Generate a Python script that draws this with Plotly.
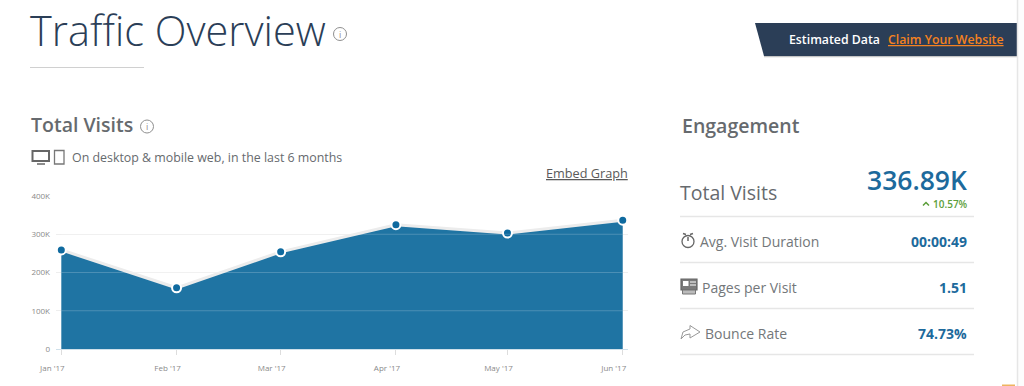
import plotly.graph_objects as go

months = ["2017-01-01", "2017-02-01", "2017-03-01", "2017-04-01", "2017-05-01", "2017-06-01"]
month_labels = ["Jan '17", "Feb '17", "Mar '17", "Apr '17", "May '17", "Jun '17"]
visits = [259000, 160000, 254000, 325000, 303000, 336890]
y_ticks = [0, 100000, 200000, 300000, 400000]
y_labels = ["0", "100K", "200K", "300K", "400K"]

metric_names = ["Avg. Visit Duration", "Pages per Visit", "Bounce Rate"]
metric_values = ["00:00:49", "1.51", "74.73%"]

FONT = "Open Sans"
BLUE = "#1f74a3"
DARK = "#2b3e57"
GREY = "#666a6e"
VAL = "#1d6a9c"

L, R, T, B = 56, 628, 196, 349
def px(x): return (x - L) / (R - L)
def py(y): return (B - y) / (B - T)

fig = go.Figure()
fig.add_trace(go.Scatter(x=months, y=visits, mode="lines", fill="tozeroy",
                         fillcolor=BLUE, line=dict(color="#ececec", width=3),
                         hoverinfo="skip", showlegend=False))
fig.add_trace(go.Scatter(x=months, y=visits, mode="markers", cliponaxis=False,
                         marker=dict(color="#0f6a9f", size=9, line=dict(color="white", width=2)),
                         showlegend=False))

ann = []
def text(x, y, s, size, color, weight=400, anchor="left"):
    ann.append(dict(x=px(x), y=py(y), xref="paper", yref="paper", text=s, showarrow=False,
                    xanchor=anchor, yanchor="middle", align=anchor, borderpad=0, borderwidth=0,
                    font=dict(family=FONT, size=size, color=color, weight=weight)))

shapes = []
def line(x0, y0, x1, y1, color, w=1, layer="above"):
    shapes.append(dict(type="line", xref="paper", yref="paper", x0=px(x0), y0=py(y0), x1=px(x1), y1=py(y1),
                       line=dict(color=color, width=w), layer=layer))
def rect(x0, y0, x1, y1, color=None, fill=None, w=1):
    shapes.append(dict(type="rect", xref="paper", yref="paper", x0=px(x0), y0=py(y0), x1=px(x1), y1=py(y1),
                       line=dict(color=color or "rgba(0,0,0,0)", width=w), fillcolor=fill or "rgba(0,0,0,0)"))
def circle(cx, cy, r, color, w=1, fill=None):
    shapes.append(dict(type="circle", xref="paper", yref="paper", x0=px(cx - r), y0=py(cy - r), x1=px(cx + r), y1=py(cy + r),
                       line=dict(color=color, width=w), fillcolor=fill or "rgba(0,0,0,0)"))
def path(points, color=None, fill=None, w=1):
    d = "M " + " L ".join(f"{px(a):.5f},{py(b):.5f}" for a, b in points)
    if fill:
        d += " Z"
    shapes.append(dict(type="path", xref="paper", yref="paper", path=d,
                       line=dict(color=color or "rgba(0,0,0,0)", width=w), fillcolor=fill or "rgba(0,0,0,0)"))

# grid lines seen through the area
for v in y_ticks[1:4]:
    shapes.append(dict(type="line", xref="x", yref="y", x0=months[0], x1=months[-1], y0=v, y1=v,
                       line=dict(color="rgba(255,255,255,0.2)", width=1), layer="above"))

# page furniture
text(30, 30, "Traffic Overview", 41.5, DARK, 300)
circle(340, 34, 6.5, "#8f8f8f", 1)
text(340, 34, "i", 9, "#8f8f8f", 400, "center")
line(30, 67.5, 144, 67.5, "#d0d0d0", 1)

text(31, 124.5, "Total Visits", 19.5, GREY, 600)
circle(147, 126.5, 6.5, "#8f8f8f", 1)
text(147, 126.5, "i", 9, "#8f8f8f", 400, "center")

# desktop / phone icons
rect(32.5, 151, 49, 161, "#666", None, 2)
line(37, 164, 45, 164, "#666", 1.5)
rect(54.5, 150.5, 64, 164, "#777", None, 1.3)
text(72, 157, "On desktop &amp; mobile web, in the last 6 months", 12.4, GREY)
text(628, 173, "<u>Embed Graph</u>", 12.7, "#5a5a5a", 400, "right")

# banner
line(764, 56.5, 1017, 56.5, "#c4c4c4", 1.5)
path([(755, 23), (1017, 23), (1017, 56), (764, 56)], None, "#2b3e57")
text(789, 39.5, "Estimated Data", 12.3, "#ffffff", 600)
text(888, 39.5, "<u>Claim Your Website</u>", 12.3, "#f58220", 600)
rect(1018, 0, 1024, 386, None, "#fdfdfd")
line(1017.5, 0, 1017.5, 386, "#e6e6e6", 1.5)
rect(1002, 384.5, 1015, 386, None, "#eeb45f")

# engagement panel
text(682, 125, "Engagement", 19.5, GREY, 600)
text(680, 192, "Total Visits", 19.5, GREY)
text(967, 180, "336.89K", 26.5, VAL, 600, "right")
text(968, 204, "10.57%", 10, "#5b9e3a", 600, "right")
path([(923, 205.5), (926, 202.5), (929, 205.5)], "#5b9e3a", None, 1.5)

for y in (216.5, 262.5, 308.5, 354.5):
    line(680, y, 974, y, "#e6e6e6", 1.5)

label_x = [700, 702, 705]
label_y = [241, 287, 333]
for n, v, x, y in zip(metric_names, metric_values, label_x, label_y):
    text(x, y, n, 14, "#73777a")
    text(967, y, v, 14, VAL, 700, "right")

# clock icon
circle(688, 241.5, 6, "#666", 1.3)
line(688, 241, 688, 237, "#666", 1.5)
line(683, 233.5, 686, 234.5, "#666", 1.5)
line(693, 233.5, 690, 234.5, "#666", 1.5)
# newspaper icon
rect(681, 279, 697, 290, "#666", "#7a7a7a", 1.2)
rect(683, 281, 688.5, 286, None, "#ffffff")
line(690, 282, 696, 282, "#fff", 1)
line(690, 285, 696, 285, "#fff", 1)
rect(682.5, 290, 695.5, 294, "#777", "#bbbbbb", 1)
# share arrow icon
path([(681, 339), (683, 332), (690, 329), (690, 325.5), (700, 332), (690, 338), (690, 334), (685, 335), (681, 339)],
     "#999", None, 1)

fig.update_layout(
    width=1024, height=386, autosize=False,
    margin=dict(l=L, r=1024 - R, t=T, b=386 - B, pad=0),
    paper_bgcolor="white", plot_bgcolor="white",
    font=dict(family=FONT, color="#8a8a8a", size=8),
    showlegend=False, annotations=ann, shapes=shapes,
    xaxis=dict(type="date", range=["2016-12-30 13:45", "2017-06-02 10:00"],
               tickvals=months, ticktext=month_labels, ticks="outside", ticklen=5, tickwidth=1,
               tickcolor="#ddd", showgrid=False, zeroline=False, showline=True, linecolor="#cfe0ea",
               ticklabelshift=-9, ticklabelstandoff=6,
               tickfont=dict(size=8, color="#8a8a8a")),
    yaxis=dict(range=[0, 400000], tickvals=y_ticks, ticktext=y_labels, showgrid=True,
               gridcolor="#eeeeee", gridwidth=1, zeroline=False, ticks="", ticklabelstandoff=5,
               tickfont=dict(size=8, color="#8a8a8a")),
)

fig.write_html("out.html", config=dict(displayModeBar=False),
               post_script="document.body.style.margin='0';document.body.style.overflow='hidden';")
